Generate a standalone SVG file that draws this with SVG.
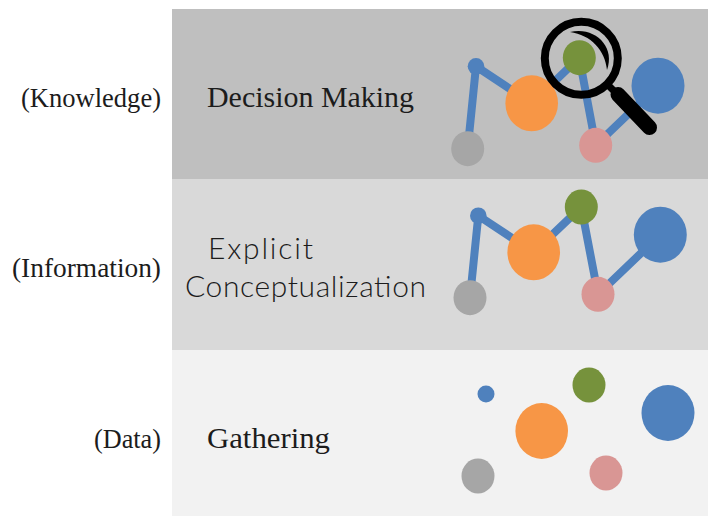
<svg xmlns="http://www.w3.org/2000/svg" width="708" height="516" viewBox="0 0 708 516">
<style>
.lab{font-family:"Liberation Serif",serif;fill:#1c1c1c;font-size:27px}
.big{font-size:30px}
.sans{font-family:"Lato","Open Sans",sans-serif;font-weight:300;font-size:30px;fill:#1c1c1c}
.edge{fill:none;stroke:#4f81bd;stroke-width:8}
.blue{fill:#4f81bd}.orange{fill:#f79646}.green{fill:#76923c}.pink{fill:#d99694}.gray{fill:#a6a6a6}
</style>
<rect x="172" y="9" width="536" height="170" fill="#bfbfbf"/>
<rect x="172" y="179" width="536" height="171" fill="#d9d9d9"/>
<rect x="172" y="350" width="536" height="166" fill="#f2f2f2"/>
<g id="connectors">
<path class="edge" d="M467.7 148.7L476 66.3L531.7 103.3L579.3 57.7L595.7 145.3L658 85.7"/>
<path class="edge" d="M470 297.7L478.3 215.7L533.7 252.3L581.3 207L598 294.3L660.3 234.7"/>
</g>
<g id="labels">
<text class="lab" x="21" y="107" textLength="140" lengthAdjust="spacingAndGlyphs">(Knowledge)</text>
<text class="lab" x="12" y="277" textLength="149" lengthAdjust="spacingAndGlyphs">(Information)</text>
<text class="lab" x="94" y="448" textLength="67" lengthAdjust="spacingAndGlyphs">(Data)</text>
<text class="lab big" x="207" y="107" textLength="207" lengthAdjust="spacingAndGlyphs">Decision Making</text>
<text class="sans" x="208" y="259" textLength="105" lengthAdjust="spacing">Explicit</text>
<text class="sans" x="185" y="296.5" textLength="241" lengthAdjust="spacing">Conceptualization</text>
<text class="lab big" x="207" y="448" textLength="123" lengthAdjust="spacingAndGlyphs">Gathering</text>
</g>
<g id="top-nodes">
<ellipse id="t-gray" class="gray" cx="467.7" cy="148.7" rx="16.5" ry="17.5"/>
<circle id="t-small" class="blue" cx="476" cy="66.3" r="8.3"/>
<ellipse id="t-orange" class="orange" cx="531.7" cy="103.3" rx="26.3" ry="28"/>
<ellipse id="t-green" class="green" cx="579.3" cy="57.7" rx="16.5" ry="17.5"/>
<ellipse id="t-pink" class="pink" cx="595.7" cy="145.3" rx="16.5" ry="17.5"/>
<ellipse id="t-blue" class="blue" cx="658" cy="85.7" rx="26.5" ry="28"/>
</g>
<g id="magnifier">
<circle cx="581.3" cy="58.3" r="36.5" fill="none" stroke="#000" stroke-width="8"/>
<path d="M608 85L622 99" stroke="#000" stroke-width="7" fill="none"/>
<path d="M618 94.5L649.5 127.5" stroke="#000" stroke-width="15" stroke-linecap="round" fill="none"/>
<path d="M570 32C594 26 616 46 607 70C605 50 591 35 570 32Z" fill="#000"/>
</g>
<g id="mid-nodes">
<ellipse id="m-gray" class="gray" cx="470" cy="297.7" rx="16.5" ry="17.5"/>
<circle id="m-small" class="blue" cx="478.3" cy="215.7" r="8.3"/>
<ellipse id="m-orange" class="orange" cx="533.7" cy="252.3" rx="26.3" ry="28"/>
<ellipse id="m-green" class="green" cx="581.3" cy="207" rx="16.5" ry="17.5"/>
<ellipse id="m-pink" class="pink" cx="598" cy="294.3" rx="16.5" ry="17.5"/>
<ellipse id="m-blue" class="blue" cx="660.3" cy="234.7" rx="26.5" ry="28"/>
</g>
<g id="bottom-nodes">
<ellipse id="b-gray" class="gray" cx="478" cy="476" rx="16.5" ry="17.5"/>
<circle id="b-small" class="blue" cx="486" cy="394" r="8.5"/>
<ellipse id="b-orange" class="orange" cx="541.7" cy="431" rx="26.3" ry="28"/>
<ellipse id="b-green" class="green" cx="589" cy="385" rx="16.5" ry="17.5"/>
<ellipse id="b-pink" class="pink" cx="606" cy="473" rx="16.5" ry="17.5"/>
<ellipse id="b-blue" class="blue" cx="668" cy="413" rx="26.5" ry="28"/>
</g>
</svg>
